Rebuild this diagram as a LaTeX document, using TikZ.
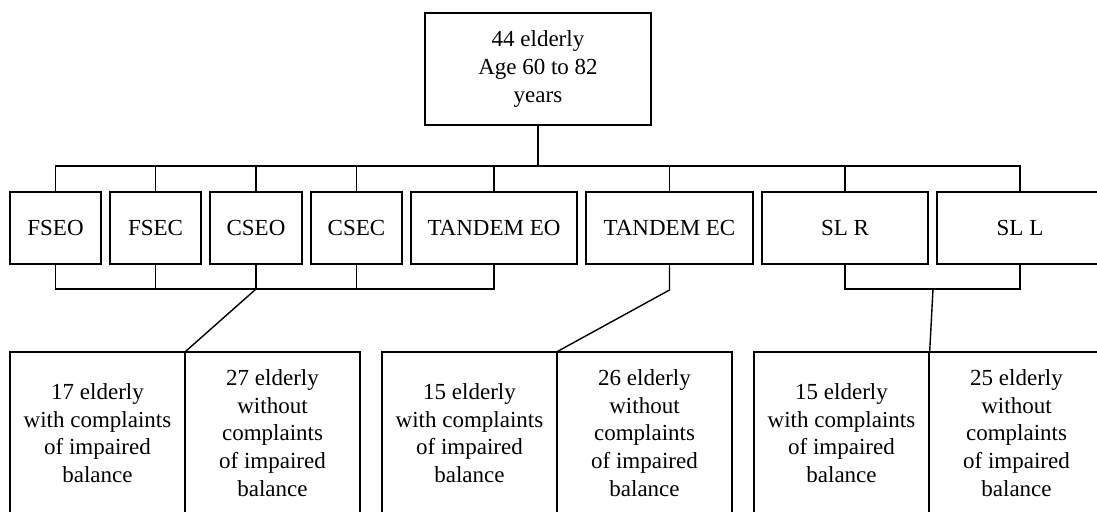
\documentclass[tikz,border=0pt]{standalone}
\usepackage{fontspec}
\setmainfont{Liberation Serif}
\begin{document}
\begin{tikzpicture}[x=0.5pt,y=-0.5pt,line width=0.7pt,
  box/.style={draw,align=center,inner sep=0pt,font=\fontsize{11.5}{13.8}\selectfont},
  test/.style={box,minimum height=36pt},
  group/.style={box,minimum width=87.5pt,minimum height=81pt}]
\useasboundingbox (0,0) rectangle (1097,511);
\clip (0,0) rectangle (1097,511);
%sample
\node[box,minimum width=113pt,minimum height=56pt](all) at (538,69){44 elderly\\Age 60 to 82\\years};
%tests
\node[test,minimum width=45.5pt](fseo) at (55.5,228){FSEO};
\node[test,minimum width=45.5pt](fsec) at (155.5,228){FSEC};
\node[test,minimum width=46pt](cseo) at (256,228){CSEO};
\node[test,minimum width=45.5pt](csec) at (356.5,228){CSEC};
\node[test,minimum width=83pt](teo) at (494,228){TANDEM EO};
\node[test,minimum width=83.5pt](tec) at (669.5,228){TANDEM EC};
\node[test,minimum width=83pt](slr) at (845,228){SL R};
\node[test,minimum width=83pt](sll) at (1020,228){SL L};
%groups
\node[group](ga1) at (97.5,433){17 elderly\\with complaints\\of impaired\\balance};
\node[group](gb1) at (272.5,433){27 elderly\\without\\complaints\\of impaired\\balance};
\node[group](ga2) at (469.5,433){15 elderly\\with complaints\\of impaired\\balance};
\node[group](gb2) at (644.5,433){26 elderly\\without\\complaints\\of impaired\\balance};
\node[group](ga3) at (841.5,433){15 elderly\\with complaints\\of impaired\\balance};
\node[group](gb3) at (1016.5,433){25 elderly\\without\\complaints\\of impaired\\balance};
%bus
\coordinate (top) at (538,166);
\draw (all.south)--(top);
\draw (fseo.north) |- (top) -| (sll.north);
\foreach \t in {fsec,cseo,csec,teo,tec,slr}
  \draw (\t.north)--(\t.north|-top);
%lower bus
\coordinate (bA) at (256,289);
\draw (fseo.south) |- (bA) -| (teo.south);
\foreach \t in {fsec,cseo,csec}
  \draw (\t.south)--(\t.south|-bA);
\draw (bA)--(ga1.north east);
\coordinate (bB) at (669.5,290);
\draw (tec.south)--(bB)--(ga2.north east);
\coordinate (bC) at (933,289);
\draw (slr.south) |- (bC) -| (sll.south);
\draw (bC)--(ga3.north east);
\end{tikzpicture}
\end{document}
